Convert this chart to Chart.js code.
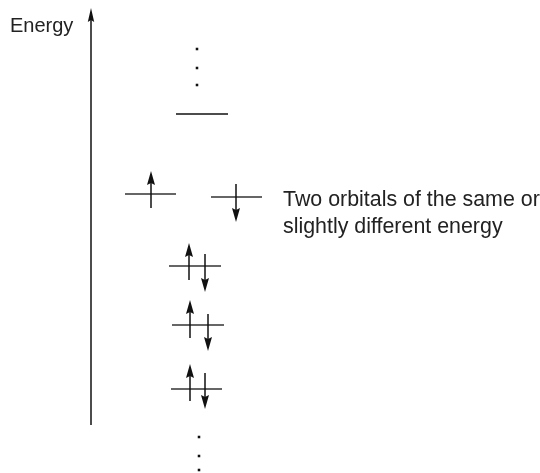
<!DOCTYPE html>
<html><head><meta charset="utf-8">
<script src="https://cdn.jsdelivr.net/npm/chart.js@4.4.1/dist/chart.umd.min.js"></script>
<style>html,body{margin:0;padding:0;background:#fff}#wrap{width:540px;height:473px}</style>
</head><body><div id="wrap"><canvas id="c" width="540" height="473"></canvas></div>
<script>
// Orbital energy levels (x-start, x-end, energy position)
const levelX0 = [176, 125, 211, 169, 172, 171];
const levelX1 = [228, 176, 262, 221, 224, 222];
const levelY  = [114, 194, 197, 266, 325, 389];
// Electron spins: x, tail, tip
const spinX    = [151, 236, 189, 205, 190, 208, 190, 205];
const spinFrom = [208, 184, 280, 254, 338, 314, 401, 373];
const spinTo   = [171, 222, 243, 292, 300, 351, 364, 409];
// Continuation dots
const dotX = [197, 197, 197, 199, 199, 199];
const dotY = [49, 68, 85, 437, 456, 470];
// Energy axis
const axisX = 91, axisBottom = 425, axisTop = 8;
const labels = ["Energy", "Two orbitals of the same or", "slightly different energy"];

const datasets = levelY.map((y, i) => ({
  data: [{x: levelX0[i], y}, {x: levelX1[i], y}],
  showLine: true, borderColor: i === 0 ? '#111' : '#333', borderWidth: 1.4,
  pointRadius: 0, fill: false
}));
datasets.push({
  data: dotX.map((x, i) => ({x, y: dotY[i]})),
  showLine: false, pointStyle: 'rect', pointRadius: 1.8,
  backgroundColor: '#111', borderColor: '#111', borderWidth: 0
});

function arrow(ctx, x, y0, y1, head, hw) {
  const dir = Math.sign(y1 - y0);
  ctx.beginPath();
  ctx.moveTo(x, y0);
  ctx.lineTo(x, y1 - dir * head * 0.6);
  ctx.stroke();
  ctx.beginPath();
  ctx.moveTo(x, y1);
  ctx.lineTo(x - hw, y1 - dir * head);
  ctx.lineTo(x, y1 - dir * head * 0.86);
  ctx.lineTo(x + hw, y1 - dir * head);
  ctx.closePath();
  ctx.fill();
}

const drawPlugin = {
  id: 'diagram',
  afterDatasetsDraw(chart) {
    const {ctx, scales: {x: sx, y: sy}} = chart;
    ctx.save();
    ctx.strokeStyle = '#111'; ctx.fillStyle = '#111'; ctx.lineWidth = 1.5;
    arrow(ctx, sx.getPixelForValue(axisX), sy.getPixelForValue(axisBottom), sy.getPixelForValue(axisTop), 14, 3.2);
    spinX.forEach((x, i) => arrow(ctx, sx.getPixelForValue(x), sy.getPixelForValue(spinFrom[i]), sy.getPixelForValue(spinTo[i]), 14, 4));
    ctx.fillStyle = '#222';
    ctx.textBaseline = 'alphabetic';
    ctx.font = '20px "Liberation Sans", Arial, sans-serif';
    ctx.fillText(labels[0], sx.getPixelForValue(10), sy.getPixelForValue(32));
    ctx.font = '21.4px "Liberation Sans", Arial, sans-serif';
    ctx.fillText(labels[1], sx.getPixelForValue(283), sy.getPixelForValue(206));
    ctx.fillText(labels[2], sx.getPixelForValue(283), sy.getPixelForValue(233));
    ctx.restore();
  }
};

new Chart(document.getElementById('c'), {
  type: 'scatter',
  data: {datasets},
  options: {
    responsive: false, animation: false,
    layout: {padding: 0, autoPadding: false},
    plugins: {legend: {display: false}, tooltip: {enabled: false}},
    scales: {
      x: {type: 'linear', min: 0, max: 540, display: false},
      y: {type: 'linear', min: 0, max: 473, reverse: true, display: false}
    }
  },
  plugins: [drawPlugin]
});
</script></body></html>
